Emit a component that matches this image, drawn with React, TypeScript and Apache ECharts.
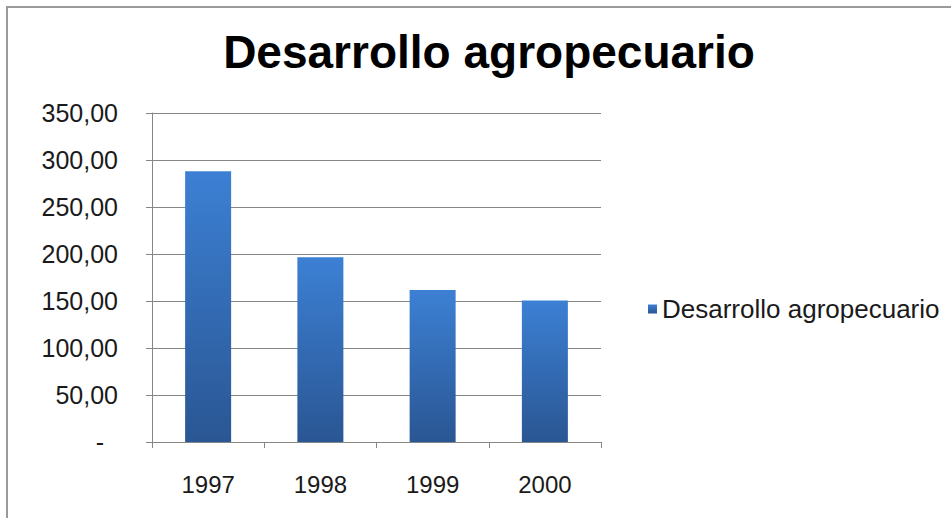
import React, { useEffect, useRef } from "react";
import * as echarts from "echarts";

const title = "Desarrollo agropecuario";
const seriesName = "Desarrollo agropecuario";
const years = ["1997", "1998", "1999", "2000"];
const values = [288, 196.5, 161.7, 150.5];
const yMin = 0;
const yMax = 350;
const yInterval = 50;

const fmt = (v: number) =>
  v === 0 ? "-  " : v.toFixed(2).replace(".", ",");

export default function App() {
  const ref = useRef<HTMLDivElement>(null);
  useEffect(() => {
    if (!ref.current) return;
    const chart = echarts.init(ref.current, undefined, { renderer: "svg" });
    const font = "'Liberation Sans', Arial, sans-serif";
    chart.setOption({
      animation: false,
      backgroundColor: "#ffffff",
      textStyle: { fontFamily: font },
      title: {
        text: title,
        left: 484,
        textAlign: "center",
        top: 24,
        textStyle: { fontFamily: font, fontSize: 46, fontWeight: "bold", color: "#000" },
      },
      legend: {
        left: 643,
        top: 291,
        icon: "rect",
        itemWidth: 9,
        itemHeight: 9,
        itemGap: 5,
        textStyle: { fontFamily: font, fontSize: 26, color: "#1a1a1a", padding: [0, 0, 0, 0] },
        data: [seriesName],
      },
      grid: { left: 152, top: 113, width: 449, height: 329, containLabel: false },
      xAxis: {
        type: "category",
        data: years,
        axisLine: { lineStyle: { color: "#868686", width: 1 } },
        axisTick: { show: true, length: 6, lineStyle: { color: "#868686" } },
        axisLabel: { fontFamily: font, fontSize: 24, color: "#1a1a1a", margin: 30 },
      },
      yAxis: {
        type: "value",
        min: yMin,
        max: yMax,
        interval: yInterval,
        axisLine: { show: true, lineStyle: { color: "#868686", width: 1 } },
        axisTick: { show: true, length: 6, lineStyle: { color: "#868686" } },
        splitLine: { lineStyle: { color: "#868686", width: 1 } },
        axisLabel: { fontFamily: font, fontSize: 25, color: "#1a1a1a", margin: 34, formatter: fmt },
      },
      series: [
        {
          name: seriesName,
          type: "bar",
          data: values,
          barWidth: 46,
          itemStyle: {
            color: new echarts.graphic.LinearGradient(0, 0, 0, 1, [
              { offset: 0, color: "#3c80d4" },
              { offset: 1, color: "#2a5693" },
            ]),
          },
        },
      ],
      graphic: [
        {
          type: "rect",
          shape: { x: 7, y: 7, width: 960, height: 530 },
          style: { fill: "none", stroke: "#9a9a9a", lineWidth: 2 },
          silent: true,
        },
      ],
    });
    return () => chart.dispose();
  }, []);
  return (
    <div
      ref={ref}
      style={{ position: "fixed", left: 0, top: 0, width: 951, height: 518 }}
    />
  );
}
